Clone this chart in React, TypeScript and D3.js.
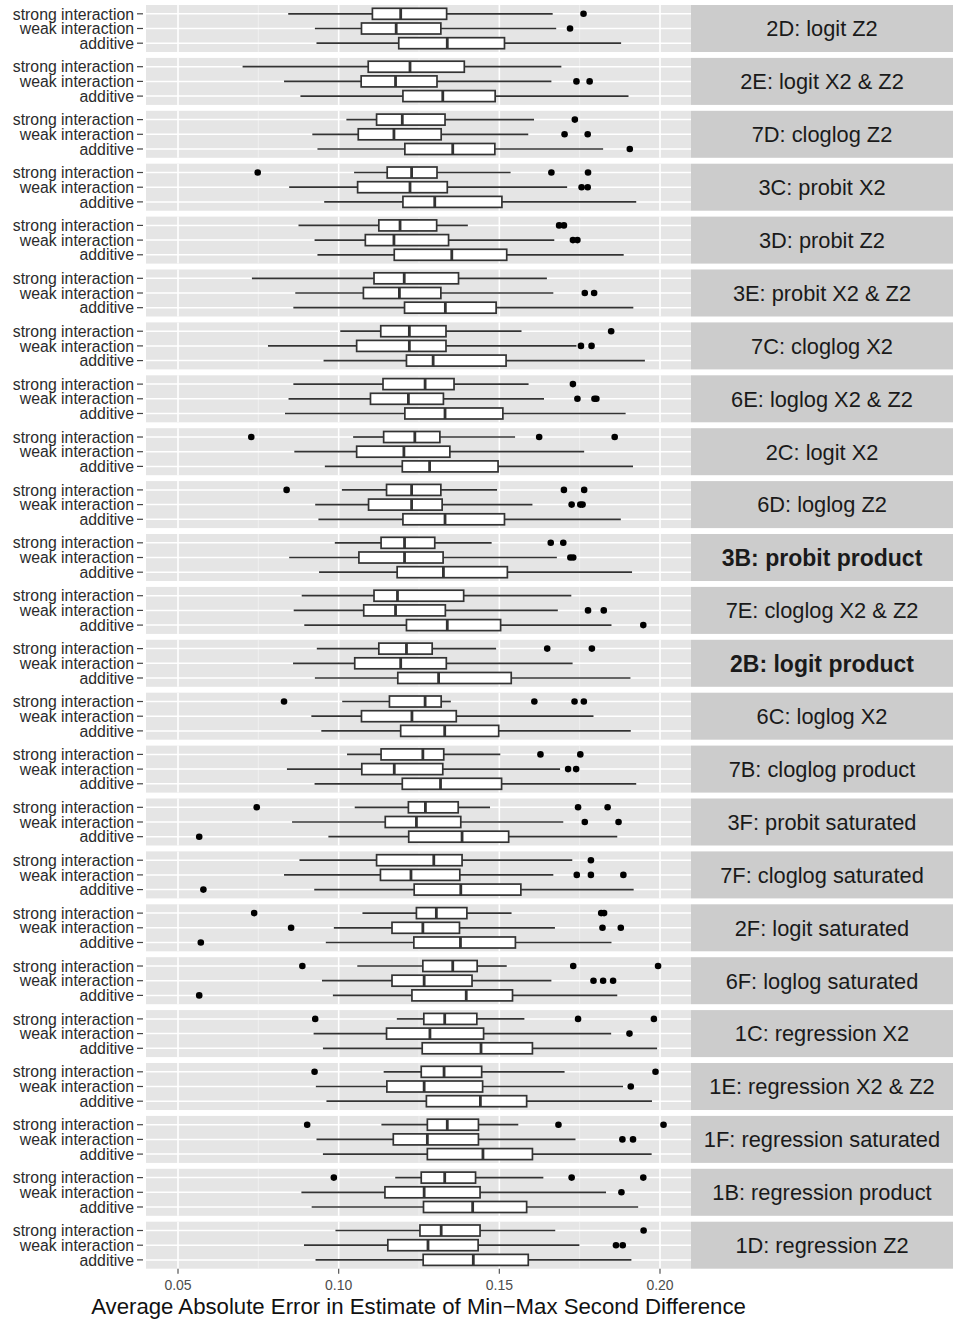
import React from "react";
import * as d3 from "d3";

// facet strips, top to bottom
const facets = [
  "2D: logit Z2",
  "2E: logit X2 & Z2",
  "7D: cloglog Z2",
  "3C: probit X2",
  "3D: probit Z2",
  "3E: probit X2 & Z2",
  "7C: cloglog X2",
  "6E: loglog X2 & Z2",
  "2C: logit X2",
  "6D: loglog Z2",
  "3B: probit product",
  "7E: cloglog X2 & Z2",
  "2B: logit product",
  "6C: loglog X2",
  "7B: cloglog product",
  "3F: probit saturated",
  "7F: cloglog saturated",
  "2F: logit saturated",
  "6F: loglog saturated",
  "1C: regression X2",
  "1E: regression X2 & Z2",
  "1F: regression saturated",
  "1B: regression product",
  "1D: regression Z2",
];
const boldFacets = ["3B: probit product", "2B: logit product"];

const groups = ["strong interaction", "weak interaction", "additive"];

// [lower whisker, q1, median, q3, upper whisker] per facet
const strongStats = [
  [0.0843, 0.1105, 0.1193, 0.1336, 0.1666],
  [0.0701, 0.1092, 0.1222, 0.1391, 0.1693],
  [0.1024, 0.1118, 0.1198, 0.1331, 0.1608],
  [0.1048, 0.1151, 0.1227, 0.1306, 0.1535],
  [0.0875, 0.1125, 0.1191, 0.1305, 0.1402],
  [0.073, 0.111, 0.1204, 0.1373, 0.1648],
  [0.1005, 0.1131, 0.122, 0.1334, 0.1569],
  [0.0859, 0.1138, 0.1269, 0.1359, 0.1591],
  [0.1045, 0.114, 0.1237, 0.1315, 0.1549],
  [0.101, 0.1149, 0.1227, 0.1318, 0.1493],
  [0.0988, 0.1132, 0.1205, 0.1299, 0.1476],
  [0.0885, 0.111, 0.1183, 0.1389, 0.1724],
  [0.0932, 0.1125, 0.1211, 0.1291, 0.149],
  [0.1011, 0.1158, 0.1269, 0.1319, 0.1349],
  [0.1026, 0.1132, 0.1262, 0.1327, 0.1503],
  [0.105, 0.1217, 0.127, 0.1372, 0.1471],
  [0.0878, 0.1118, 0.1296, 0.1384, 0.1727],
  [0.1074, 0.1242, 0.1304, 0.1399, 0.1538],
  [0.1058, 0.1262, 0.1355, 0.1431, 0.1523],
  [0.1181, 0.1265, 0.133, 0.143, 0.1578],
  [0.114, 0.1257, 0.1328, 0.1445, 0.1703],
  [0.1133, 0.1276, 0.1338, 0.1435, 0.1559],
  [0.1176, 0.1257, 0.133, 0.1426, 0.1637],
  [0.099, 0.1253, 0.1319, 0.144, 0.1674],
];
const strongOut = [
  [0.1762], [], [0.1735], [0.0748, 0.1662, 0.1776], [0.1686, 0.1701], [],
  [0.1848], [0.1729], [0.0728, 0.1624, 0.1859], [0.0838, 0.1701, 0.1764],
  [0.166, 0.1699], [], [0.1649, 0.1788], [0.083, 0.1609, 0.1734, 0.1763],
  [0.1628, 0.1752], [0.0745, 0.1745, 0.1837], [0.1785], [0.0737, 0.1817, 0.1826],
  [0.0887, 0.173, 0.1994], [0.0927, 0.1745, 0.1981], [0.0925, 0.1986],
  [0.0902, 0.1684, 0.2011], [0.0985, 0.1725, 0.1948], [0.1949],
];

const weakStats = [
  [0.0926, 0.1071, 0.1179, 0.1318, 0.1677],
  [0.083, 0.107, 0.1177, 0.1306, 0.1662],
  [0.0918, 0.1061, 0.1172, 0.1319, 0.159],
  [0.0846, 0.1059, 0.1222, 0.1338, 0.1711],
  [0.0925, 0.1083, 0.1172, 0.1342, 0.1671],
  [0.0865, 0.1077, 0.1189, 0.1318, 0.1668],
  [0.078, 0.1056, 0.122, 0.1334, 0.174],
  [0.0844, 0.1099, 0.1217, 0.1326, 0.1639],
  [0.0862, 0.1056, 0.1203, 0.1346, 0.1764],
  [0.0927, 0.1093, 0.1227, 0.1322, 0.1603],
  [0.0846, 0.1063, 0.1205, 0.1325, 0.1679],
  [0.086, 0.1078, 0.1177, 0.1332, 0.1682],
  [0.0858, 0.105, 0.1193, 0.1335, 0.1728],
  [0.0915, 0.1071, 0.1228, 0.1366, 0.1793],
  [0.0839, 0.1072, 0.1173, 0.1324, 0.1689],
  [0.0855, 0.1145, 0.1242, 0.138, 0.1699],
  [0.083, 0.113, 0.1225, 0.1377, 0.1668],
  [0.0985, 0.1166, 0.1262, 0.1376, 0.1673],
  [0.0948, 0.1166, 0.1266, 0.1415, 0.1662],
  [0.0922, 0.1149, 0.1284, 0.1451, 0.1848],
  [0.0929, 0.115, 0.1266, 0.1448, 0.1885],
  [0.0931, 0.117, 0.1276, 0.1435, 0.1737],
  [0.0884, 0.1144, 0.1266, 0.144, 0.1832],
  [0.0892, 0.1153, 0.1278, 0.1434, 0.1749],
];
const weakOut = [
  [0.172], [0.174, 0.1781], [0.1703, 0.1775], [0.1756, 0.1775], [0.1729, 0.1743],
  [0.1766, 0.1795], [0.1754, 0.1787], [0.1743, 0.1796, 0.1802], [],
  [0.1725, 0.1752, 0.1759], [0.1721, 0.173], [0.1776, 0.1825], [], [],
  [0.1714, 0.1739], [0.1766, 0.1871], [0.1741, 0.1785, 0.1886],
  [0.0852, 0.1821, 0.1878], [0.1793, 0.1823, 0.1854], [0.1905], [0.1909],
  [0.1883, 0.1916], [0.188], [0.1863, 0.1884],
];

const additiveStats = [
  [0.0931, 0.1187, 0.1338, 0.1516, 0.1879],
  [0.0881, 0.12, 0.1324, 0.1487, 0.1902],
  [0.0934, 0.1206, 0.1355, 0.1486, 0.1823],
  [0.0955, 0.12, 0.1299, 0.1508, 0.1926],
  [0.0934, 0.1173, 0.1352, 0.1523, 0.1887],
  [0.0859, 0.1205, 0.1332, 0.149, 0.1917],
  [0.0953, 0.1211, 0.1294, 0.1521, 0.1953],
  [0.0833, 0.1206, 0.1331, 0.1511, 0.1893],
  [0.0957, 0.1198, 0.1283, 0.1496, 0.1916],
  [0.0937, 0.12, 0.1331, 0.1516, 0.1878],
  [0.0939, 0.1182, 0.1326, 0.1525, 0.1913],
  [0.0893, 0.1211, 0.1338, 0.1504, 0.1849],
  [0.0926, 0.1184, 0.1311, 0.1537, 0.1908],
  [0.0946, 0.1193, 0.133, 0.1498, 0.1909],
  [0.0925, 0.1198, 0.1317, 0.1507, 0.1926],
  [0.0968, 0.1218, 0.1384, 0.1529, 0.1867],
  [0.0924, 0.1235, 0.138, 0.1567, 0.1918],
  [0.096, 0.1234, 0.1379, 0.155, 0.1849],
  [0.0982, 0.1228, 0.1397, 0.1541, 0.1867],
  [0.0951, 0.126, 0.1443, 0.1603, 0.1991],
  [0.0962, 0.1273, 0.1441, 0.1585, 0.1975],
  [0.0951, 0.1276, 0.1449, 0.1603, 0.1974],
  [0.0916, 0.1264, 0.1417, 0.1585, 0.1932],
  [0.0928, 0.1263, 0.1419, 0.159, 0.1911],
];
const additiveOut = [
  [], [], [0.1906], [], [], [], [], [], [], [], [], [0.1948], [], [], [],
  [0.0566], [0.0579], [0.0571], [0.0566], [], [], [], [], [],
];

const xTicks = [0.05, 0.1, 0.15, 0.2];
const xMinor = [0.075, 0.125, 0.175];
const xTitle = "Average Absolute Error in Estimate of Min\u2212Max Second Difference";

const statsByGroup = [strongStats, weakStats, additiveStats];
const outByGroup = [strongOut, weakOut, additiveOut];

const FONT = "'Liberation Sans', Arial, Helvetica, sans-serif";

export default function App() {
  const width = 953;
  const height = 1322;
  const panelLeft = 146;
  const panelRight = 691;

  const x = d3.scaleLinear().domain([0.05, 0.2]).range([178, 660]);

  const facetY = d3
    .scaleBand()
    .domain(facets)
    .range([5, 1268.7])
    .paddingInner(0.1115)
    .paddingOuter(0);
  const bw = facetY.bandwidth();

  const rowY = d3.scalePoint().domain(groups).range([0, bw]).padding(0.6);
  const boxH = rowY.step() * 0.75;
  const axisTop = (facetY(facets[facets.length - 1]) as number) + bw;

  return (
    <svg
      width={width}
      height={height}
      style={{ position: "absolute", left: 0, top: 0, background: "#fff" }}
      fontFamily={FONT}
    >
      {facets.map((f, fi) => {
        const ty = facetY(f) as number;
        const bold = boldFacets.includes(f);
        return (
          <g key={f} transform={`translate(0,${ty})`}>
            <rect x={panelLeft} y={0} width={panelRight - panelLeft} height={bw} fill="#e5e5e5" />
            {xMinor.map((v) => (
              <line key={"m" + v} x1={x(v)} x2={x(v)} y1={0} y2={bw} stroke="#f2f2f2" strokeWidth={0.8} />
            ))}
            {xTicks.map((v) => (
              <line key={"M" + v} x1={x(v)} x2={x(v)} y1={0} y2={bw} stroke="#fff" strokeWidth={1.6} />
            ))}
            {groups.map((g) => (
              <line key={"h" + g} x1={panelLeft} x2={panelRight} y1={rowY(g)} y2={rowY(g)} stroke="#fff" strokeWidth={1.5} />
            ))}
            {groups.map((g) => (
              <g key={"lab" + g}>
                <text
                  x={134}
                  y={rowY(g)}
                  dy="0.36em"
                  textAnchor="end"
                  fontSize={15.8}
                  fill="#2b2b2b"
                >
                  {g}
                </text>
                <line x1={137} x2={143} y1={rowY(g)} y2={rowY(g)} stroke="#444" strokeWidth={1.2} />
              </g>
            ))}
            {groups.map((g, gi) => {
              const [lo, q1, med, q3, hi] = statsByGroup[gi][fi];
              const cy = rowY(g) as number;
              return (
                <g key={"box" + g}>
                  <line x1={x(lo)} x2={x(q1)} y1={cy} y2={cy} stroke="#333" strokeWidth={1.7} />
                  <line x1={x(q3)} x2={x(hi)} y1={cy} y2={cy} stroke="#333" strokeWidth={1.7} />
                  <rect
                    x={x(q1)}
                    y={cy - boxH / 2}
                    width={x(q3) - x(q1)}
                    height={boxH}
                    fill="#fff"
                    stroke="#333"
                    strokeWidth={1.7}
                  />
                  <line x1={x(med)} x2={x(med)} y1={cy - boxH / 2} y2={cy + boxH / 2} stroke="#333" strokeWidth={2.8} />
                  {outByGroup[gi][fi].map((o, oi) => (
                    <circle key={oi} cx={x(o)} cy={cy} r={3.3} fill="#000" />
                  ))}
                </g>
              );
            })}
            <rect x={panelRight} y={0} width={width - panelRight} height={bw} fill="#cccccc" />
            <text
              x={(panelRight + width) / 2}
              y={bw / 2}
              dy="0.36em"
              textAnchor="middle"
              fontSize={bold ? 23 : 21.8}
              fontWeight={bold ? "bold" : "normal"}
              fill="#1a1a1a"
            >
              {f}
            </text>
          </g>
        );
      })}
      <g>
        {xTicks.map((v) => (
          <g key={"t" + v}>
            <line x1={x(v)} x2={x(v)} y1={axisTop} y2={axisTop + 5} stroke="#555" strokeWidth={1.2} />
            <text x={x(v)} y={axisTop + 21} textAnchor="middle" fontSize={14} fill="#4d4d4d">
              {d3.format(".2f")(v)}
            </text>
          </g>
        ))}
        <text
          x={(panelLeft + panelRight) / 2}
          y={axisTop + 45}
          textAnchor="middle"
          fontSize={22.2}
          fill="#111"
        >
          {xTitle}
        </text>
      </g>
    </svg>
  );
}
